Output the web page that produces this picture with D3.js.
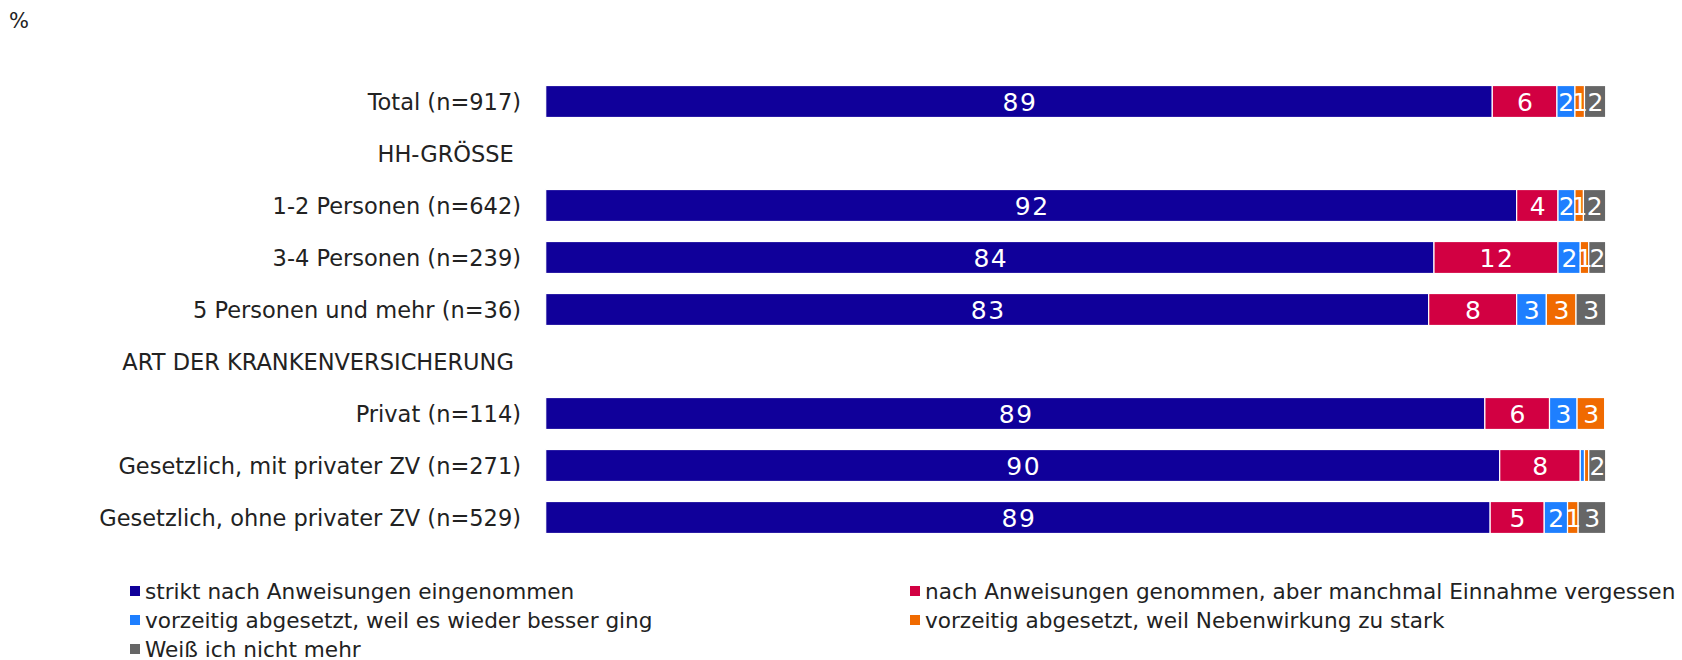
<!DOCTYPE html>
<html><head><meta charset="utf-8">
<script src="https://cdn.jsdelivr.net/npm/d3@7"></script>
<style>
body{margin:0;background:#fff;}
svg text{font-family:"DejaVu Sans",sans-serif;}
</style></head>
<body><svg id="c" width="1682" height="660"></svg>
<script>
const categories = ["Total (n=917)", "HH-GRÖSSE ", "1-2 Personen (n=642)", "3-4 Personen (n=239)", "5 Personen und mehr (n=36)", "ART DER KRANKENVERSICHERUNG ", "Privat (n=114)", "Gesetzlich, mit privater ZV (n=271)", "Gesetzlich, ohne privater ZV (n=529)"];
const seriesNames = ["strikt nach Anweisungen eingenommen", "nach Anweisungen genommen, aber manchmal Einnahme vergessen", "vorzeitig abgesetzt, weil es wieder besser ging", "vorzeitig abgesetzt, weil Nebenwirkung zu stark", "Weiß ich nicht mehr"];
const strikt      = [89.3, null, 91.6, 83.8, 83.3, null, 88.6, 90.0, 89.1];
const vergessen   = [6.1,  null, 3.9, 11.7,  8.3, null,  6.1,  7.6,  5.1];
const besser      = [1.7,  null, 1.6,  2.1,  2.8, null,  2.6,  0.4,  2.2];
const nebenwirk   = [0.9,  null, 0.8,  0.8,  2.8, null,  2.6,  0.4,  1.0];
const weissnicht  = [2.0,  null, 2.1,  1.6,  2.8, null,  0,    1.6,  2.6];
const colors = ["#10009a", "#d20042", "#1e7fff", "#f06a00", "#666666"];
const unitLabel = "%";

const seriesValues = [strikt, vergessen, besser, nebenwirk, weissnicht];
const rows = categories.map((c, i) => {
  const o = {cat: c, header: strikt[i] === null};
  seriesNames.forEach((s, j) => o[s] = seriesValues[j][i] || 0);
  return o;
});

const svg = d3.select("#c");
const x = d3.scaleLinear().domain([0, 100]).range([545.7, 1605.7]);
const y = d3.scaleBand().domain(categories).range([75.5, 543.5]).paddingInner(0.385).paddingOuter(0.1925);
const color = d3.scaleOrdinal().domain(seriesNames).range(colors);

svg.append("text").attr("x", 9).attr("y", 28).attr("font-size", 21).attr("fill", "#222").text(unitLabel);

const stack = d3.stack().keys(seriesNames)(rows.filter(r => !r.header));

const g = svg.append("g");
stack.forEach(layer => {
  const lg = g.append("g");
  layer.forEach(d => {
    const w = x(d[1]) - x(d[0]);
    if (w <= 0) return;
    lg.append("rect")
      .attr("x", x(d[0])).attr("y", y(d.data.cat))
      .attr("width", w).attr("height", y.bandwidth())
      .attr("fill", color(layer.key))
      .attr("stroke", "#fff").attr("stroke-width", 1.2);
  });
});
stack.forEach(layer => {
  layer.forEach(d => {
    const v = d[1] - d[0];
    const r = Math.round(v);
    if (r < 1) return;
    g.append("text")
      .attr("x", (x(d[0]) + x(d[1])) / 2 + 1)
      .attr("y", y(d.data.cat) + y.bandwidth() / 2)
      .attr("dy", "0.36em")
      .attr("text-anchor", "middle")
      .attr("font-size", 25)
      .attr("letter-spacing", 1.5)
      .attr("fill", "#fff")
      .text(r);
  });
});

// category labels
svg.append("g").selectAll("text").data(categories).join("text")
  .attr("x", 521)
  .attr("y", d => y(d) + y.bandwidth() / 2)
  .attr("dy", "0.36em")
  .attr("text-anchor", "end")
  .attr("font-size", 22.5)
  .attr("fill", "#222")
  .style("white-space", "pre")
  .text(d => d);

// legend
const leg = svg.append("g");
seriesNames.forEach((s, i) => {
  const col = i % 2, row = Math.floor(i / 2);
  const lx = col === 0 ? 130 : 910;
  const ly = 591 + row * 29;
  leg.append("rect").attr("x", lx).attr("y", ly - 5).attr("width", 10).attr("height", 10).attr("fill", colors[i]);
  leg.append("text").attr("x", lx + 15).attr("y", ly).attr("dy", "0.36em")
    .attr("font-size", 21.6).attr("fill", "#222").text(s);
});
</script></body></html>
